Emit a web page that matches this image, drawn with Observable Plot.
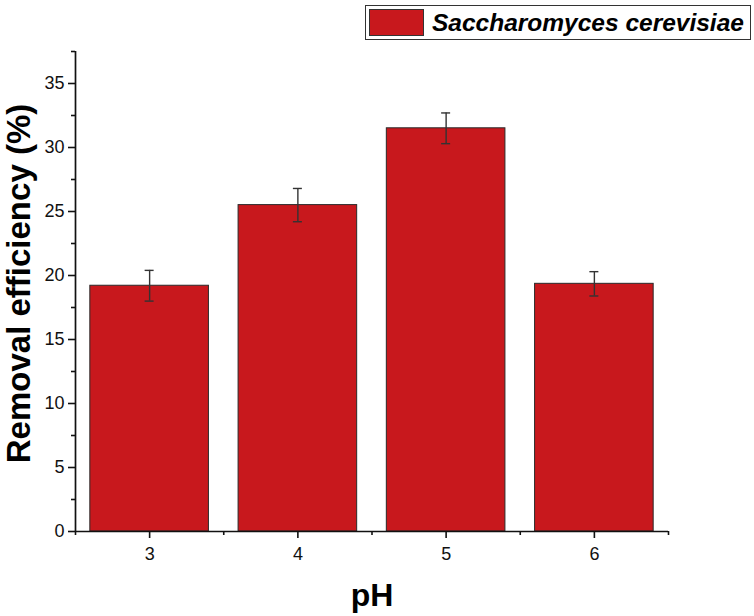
<!DOCTYPE html>
<html>
<head>
<meta charset="utf-8">
<script src="https://cdn.jsdelivr.net/npm/d3@7"></script>
<script src="https://cdn.jsdelivr.net/npm/@observablehq/plot@0.6"></script>
<style>
  html, body { margin: 0; padding: 0; background: #fff; }
  #wrap { position: relative; width: 754px; height: 616px; }
  #legend {
    position: absolute; left: 365px; top: 5px; width: 386px; height: 35px;
    border: 1px solid #333; background: #fff; box-sizing: border-box;
    font-family: "Liberation Sans", Arial, sans-serif;
  }
  #legend .sw {
    position: absolute; left: 3px; top: 3px; width: 55px; height: 27px;
    background: #c8181d; border: 1px solid #333; box-sizing: border-box;
  }
  #legend .lab {
    position: absolute; left: 66px; top: 2px; line-height: 29px;
    font-size: 24.5px; font-weight: bold; font-style: italic; color: #000; white-space: nowrap;
  }
</style>
</head>
<body>
<div id="wrap">
  <div id="chart"></div>
  <div id="legend"><div class="sw"></div><div class="lab"></div></div>
</div>
<script>
const seriesName = "Saccharomyces cerevisiae";
const pH = [3, 4, 5, 6];
const removal = [19.2, 25.5, 31.5, 19.35];
const errors = [1.2, 1.3, 1.2, 0.95];
const xDomain = [2.5, 6.5];
const yDomain = [0, 37.5];
const yMajorTicks = [0, 5, 10, 15, 20, 25, 30, 35];
const yMinorTicks = [2.5, 7.5, 12.5, 17.5, 22.5, 27.5, 32.5, 37.5];
const xMajorTicks = [3, 4, 5, 6];
const xMinorTicks = [2.5, 3.5, 4.5, 5.5, 6.5];
const xTitle = "pH";
const yTitle = "Removal efficiency (%)";

const barFill = "#c8181d";
const halfWidth = 0.4;
const ink = "#111";

const data = pH.map((p, i) => ({pH: p, value: removal[i], err: errors[i]}));

const axisStyle = {stroke: ink, strokeWidth: 1.6, strokeOpacity: 1, fontSize: 18, fill: "#111"};

const chart = Plot.plot({
  width: 754,
  height: 616,
  marginLeft: 75,
  marginRight: 86,
  marginTop: 51,
  marginBottom: 85,
  x: {domain: xDomain},
  y: {domain: yDomain},
  style: {fontFamily: "'Liberation Sans', Arial, sans-serif", fontSize: "18px", color: "#111", background: "#fff"},
  marks: [
    Plot.rectY(data, {x1: d => d.pH - halfWidth, x2: d => d.pH + halfWidth, y: "value", fill: barFill, stroke: "#2a2a2a", strokeWidth: 1}),
    Plot.ruleX(data, {x: "pH", y1: d => d.value - d.err, y2: d => d.value + d.err, stroke: "#333", strokeWidth: 1.4}),
    Plot.ruleY(data, {x1: "pH", x2: "pH", y: d => d.value + d.err, insetLeft: -4.5, insetRight: -4.5, stroke: "#333", strokeWidth: 1.4}),
    Plot.ruleY(data, {x1: "pH", x2: "pH", y: d => d.value - d.err, insetLeft: -4.5, insetRight: -4.5, stroke: "#333", strokeWidth: 1.4}),
    Plot.ruleY([yDomain[0]], {stroke: ink, strokeWidth: 1.7}),
    Plot.ruleX([xDomain[0]], {stroke: ink, strokeWidth: 1.7}),
    Plot.axisY({ticks: yMajorTicks, tickSize: 7, tickPadding: 4, tickFormat: d3.format("d"), label: null, ...axisStyle}),
    Plot.axisY({ticks: yMinorTicks, tickSize: 4, tickFormat: () => "", label: null, ...axisStyle}),
    Plot.axisX({ticks: xMajorTicks, tickSize: 7, tickPadding: 9, tickFormat: d3.format("d"), label: null, ...axisStyle}),
    Plot.axisX({ticks: xMinorTicks, tickSize: 4, tickFormat: () => "", label: null, ...axisStyle}),
    Plot.text([yTitle], {frameAnchor: "left", rotate: -90, dx: -46, dy: -8, lineAnchor: "bottom", textAnchor: "middle", fontSize: 33, fontWeight: "bold", fill: "#000"}),
    Plot.text([xTitle], {frameAnchor: "bottom", dy: 74, lineAnchor: "bottom", textAnchor: "middle", fontSize: 32, fontWeight: "bold", fill: "#000"})
  ]
});
document.getElementById("chart").appendChild(chart);
document.querySelector("#legend .lab").textContent = seriesName;
</script>
</body>
</html>
